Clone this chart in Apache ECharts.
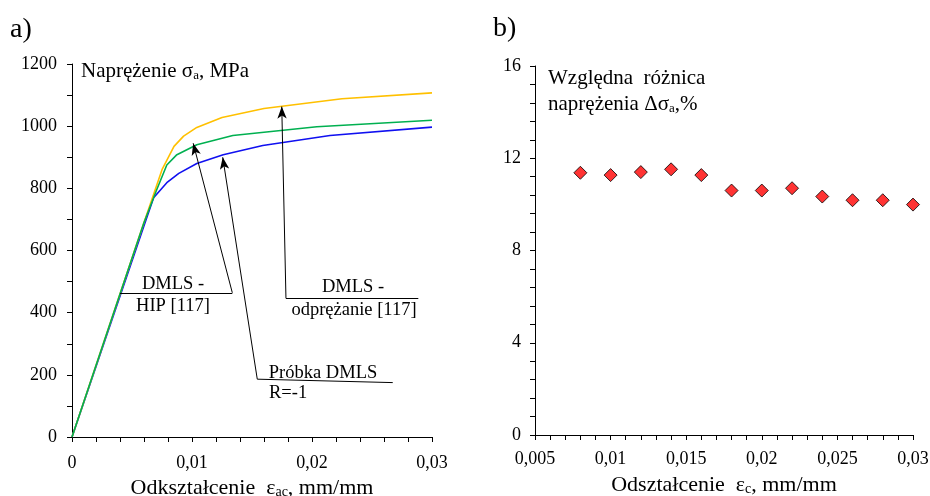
<!DOCTYPE html>
<html>
<head>
<meta charset="utf-8">
<script src="https://cdn.jsdelivr.net/npm/echarts@6/dist/echarts.min.js"></script>
<style>html,body{margin:0;padding:0;background:#fff}#c{width:930px;height:496px}</style>
</head>
<body>
<div id="c"></div>
<script>
// ---- data (chart a: stress-strain curves) ----
const strainYellow = [0, 0.006, 0.0075, 0.0085, 0.0093, 0.0104, 0.0125, 0.016, 0.0225, 0.03];
const stressYellow = [0, 690, 860, 935, 968, 996, 1028, 1057, 1088, 1107];
const strainGreen = [0, 0.006, 0.007, 0.0079, 0.0087, 0.0104, 0.0134, 0.0204, 0.03];
const stressGreen = [0, 690, 790, 875, 907, 940, 970, 998, 1019];
const strainBlue = [0, 0.006, 0.0068, 0.0079, 0.0089, 0.0104, 0.0126, 0.0159, 0.0215, 0.03];
const stressBlue = [0, 680, 770, 818, 848, 880, 908, 938, 970, 997];
const ticksA_x = [0, 0.01, 0.02, 0.03];
const ticksA_y = [0, 200, 400, 600, 800, 1000, 1200];

// annotation leaders (data coordinates): underline start, underline end / leader start, arrow tip
const annHIP = [[0.004, 464], [0.01336, 464], [0.0101, 945]];
const annProbka = [[0.02673, 175], [0.01544, 186], [0.01256, 900]];
const annOdpr = [[0.02886, 446], [0.01783, 446], [0.01748, 1063]];

// ---- data (chart b: relative difference) ----
const strainB = [0.008, 0.010, 0.012, 0.014, 0.016, 0.018, 0.020, 0.022, 0.024, 0.026, 0.028, 0.030];
const diffB = [11.37, 11.27, 11.40, 11.52, 11.27, 10.60, 10.60, 10.70, 10.34, 10.18, 10.18, 9.99];
const ticksB_y = [0, 4, 8, 12, 16];

const FONT = 'Liberation Serif';
const fmt = v => String(parseFloat(v.toFixed(4))).replace('.', ',');
const fmtInt = v => String(v);
const zip = (a, b) => a.map((x, i) => [x, b[i]]);

function annLines(p) {
  return [
    [{coord: p[0], symbol: 'none'}, {coord: p[1], symbol: 'none'}],
    [{coord: p[1], symbol: 'none'}, {coord: p[2], symbol: 'arrow', symbolSize: [7, 12]}]
  ];
}

const subRich = (size) => ({
  a: {fontFamily: FONT, fontSize: size, color: '#000', fill: '#000', verticalAlign: 'bottom'},
  s: {fontFamily: FONT, fontSize: Math.round(size * 0.62), color: '#000', fill: '#000', verticalAlign: 'bottom'}
});

const axisCommon = {
  axisLine: {show: true, lineStyle: {color: '#000', width: 1}},
  axisTick: {show: true, inside: false, length: 5, lineStyle: {color: '#000'}},
  minorTick: {show: true, length: 5, lineStyle: {color: '#000'}},
  splitLine: {show: false},
  axisLabel: {color: '#000', fontFamily: FONT, fontSize: 18}
};

const chart = echarts.init(document.getElementById('c'), null, {renderer: 'canvas'});
chart.setOption({
  animation: false,
  backgroundColor: '#fff',
  textStyle: {fontFamily: FONT},
  grid: [
    {left: 72, right: 498, top: 64, bottom: 59, containLabel: false, outerBoundsMode: 'none'},
    {left: 535, right: 17, top: 66, bottom: 61, containLabel: false, outerBoundsMode: 'none'}
  ],
  xAxis: [
    Object.assign({}, axisCommon, {
      gridIndex: 0, type: 'value', min: ticksA_x[0], max: ticksA_x[ticksA_x.length - 1], interval: 0.01,
      minorTick: Object.assign({}, axisCommon.minorTick, {splitNumber: 5}),
      axisLabel: Object.assign({}, axisCommon.axisLabel, {formatter: fmt, margin: 17}),
      name: '{a|Odkształcenie  ε}{s|ac}{a|, mm/mm}', nameLocation: 'middle', nameGap: 37,
      nameTextStyle: {rich: subRich(22)}
    }),
    Object.assign({}, axisCommon, {
      gridIndex: 1, type: 'value', min: 0.005, max: 0.03, interval: 0.005,
      minorTick: Object.assign({}, axisCommon.minorTick, {splitNumber: 5}),
      axisLabel: Object.assign({}, axisCommon.axisLabel, {formatter: fmt, margin: 15}),
      name: '{a|Odształcenie  ε}{s|c}{a|, mm/mm}', nameLocation: 'middle', nameGap: 39,
      nameTextStyle: {rich: subRich(22)}
    })
  ],
  yAxis: [
    Object.assign({}, axisCommon, {
      gridIndex: 0, type: 'value', min: ticksA_y[0], max: ticksA_y[ticksA_y.length - 1], interval: 200,
      minorTick: Object.assign({}, axisCommon.minorTick, {splitNumber: 2}),
      axisLabel: Object.assign({}, axisCommon.axisLabel, {formatter: fmtInt, margin: 15})
    }),
    Object.assign({}, axisCommon, {
      gridIndex: 1, type: 'value', min: ticksB_y[0], max: ticksB_y[ticksB_y.length - 1], interval: 4,
      minorTick: Object.assign({}, axisCommon.minorTick, {splitNumber: 5}),
      axisLabel: Object.assign({}, axisCommon.axisLabel, {formatter: fmtInt, margin: 14})
    })
  ],
  series: [
    {type: 'line', xAxisIndex: 0, yAxisIndex: 0, data: zip(strainBlue, stressBlue), showSymbol: false, symbol: 'none',
     lineStyle: {color: '#1010F0', width: 1.6}, z: 2},
    {type: 'line', xAxisIndex: 0, yAxisIndex: 0, data: zip(strainYellow, stressYellow), showSymbol: false, symbol: 'none',
     lineStyle: {color: '#FFC000', width: 1.6}, z: 3},
    {type: 'line', xAxisIndex: 0, yAxisIndex: 0, data: zip(strainGreen, stressGreen), showSymbol: false, symbol: 'none',
     lineStyle: {color: '#00B050', width: 1.6}, z: 4,
     markLine: {silent: true, animation: false, symbol: ['none', 'none'], label: {show: false},
       lineStyle: {color: '#000', width: 1, type: 'solid'}, emphasis: {disabled: true},
       data: [].concat(annLines(annHIP), annLines(annProbka), annLines(annOdpr))}},
    {type: 'scatter', xAxisIndex: 1, yAxisIndex: 1, data: zip(strainB, diffB), symbol: 'diamond', symbolSize: [13, 13],
     itemStyle: {color: '#FF0000', borderColor: '#000', borderWidth: 1}}
  ],
  graphic: [
    {type: 'text', x: 10, y: 30, style: {text: 'a)', font: '28px ' + FONT, fill: '#000', verticalAlign: 'middle'}},
    {type: 'text', x: 493, y: 29, style: {text: 'b)', font: '28px ' + FONT, fill: '#000', verticalAlign: 'middle'}},
    {type: 'text', x: 81, y: 82, style: {text: '{a|Naprężenie σ}{s|a}{a|, MPa}', verticalAlign: 'bottom', rich: subRich(21)}},
    {type: 'text', x: 548, y: 89, style: {text: 'Względna  różnica', font: '21px ' + FONT, fill: '#000', verticalAlign: 'bottom'}},
    {type: 'text', x: 548, y: 115, style: {text: '{a|naprężenia Δσ}{s|a}{a|,%}', verticalAlign: 'bottom', rich: subRich(21)}},
    {type: 'text', x: 173, y: 284, style: {text: 'DMLS -', font: '18.5px ' + FONT, fill: '#000', align: 'center', verticalAlign: 'middle'}},
    {type: 'text', x: 173, y: 306, style: {text: 'HIP [117]', font: '18.5px ' + FONT, fill: '#000', align: 'center', verticalAlign: 'middle'}},
    {type: 'text', x: 353, y: 287, style: {text: 'DMLS -', font: '18.5px ' + FONT, fill: '#000', align: 'center', verticalAlign: 'middle'}},
    {type: 'text', x: 354, y: 310, style: {text: 'odprężanie [117]', font: '18.5px ' + FONT, fill: '#000', align: 'center', verticalAlign: 'middle'}},
    {type: 'text', x: 323, y: 373, style: {text: 'Próbka DMLS', font: '18.5px ' + FONT, fill: '#000', align: 'center', verticalAlign: 'middle'}},
    {type: 'text', x: 269, y: 393, style: {text: 'R=-1', font: '18.5px ' + FONT, fill: '#000', align: 'left', verticalAlign: 'middle'}}
  ]
});
</script>
</body>
</html>
